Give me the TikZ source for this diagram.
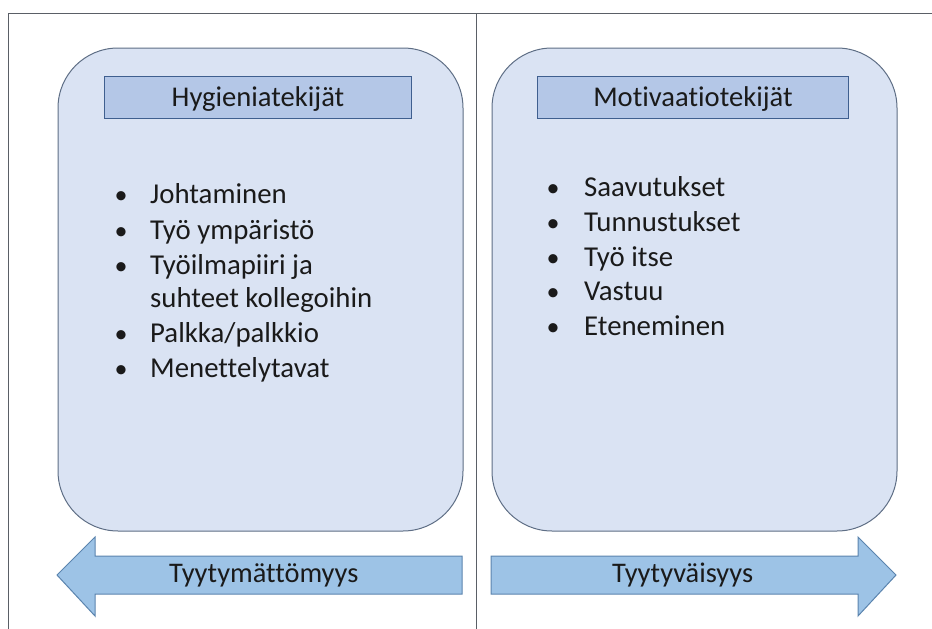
\documentclass[tikz,border=0pt]{standalone}
\usepackage{fontspec}
\setmainfont{Carlito}[Ligatures=NoCommon]
\definecolor{framecol}{HTML}{5A5F66}
\definecolor{boxfill}{HTML}{DAE3F3}
\definecolor{boxline}{HTML}{5E6E85}
\definecolor{headfill}{HTML}{B4C7E7}
\definecolor{headline}{HTML}{3F5F8F}
\definecolor{arrfill}{HTML}{9DC3E6}
\definecolor{arrline}{HTML}{5B84AE}
\definecolor{txt}{HTML}{1A1A1A}
\tikzset{
  bigbox/.style={draw=boxline, fill=boxfill, line width=1pt, rounded corners=60pt},
  headbox/.style={draw=headline, fill=headfill, line width=1pt},
  arrowshape/.style={draw=arrline, fill=arrfill, line width=1pt},
  frameline/.style={draw=framecol, line width=1pt},
  item/.style={anchor=base west, inner sep=0pt, text=txt, font=\fontsize{28.8}{32}\selectfont},
  bul/.style={anchor=base, inner sep=0pt, text=txt, font=\fontsize{26}{30}\selectfont},
  headtxt/.style={anchor=base, inner sep=0pt, text=txt, font=\fontsize{28.6}{32}\selectfont},
  arrtxt/.style={anchor=base west, inner sep=0pt, text=txt, font=\fontsize{28.4}{32}\selectfont},
}
\begin{document}
\begin{tikzpicture}[x=1pt,y=-1pt]
\useasboundingbox (0,0) rectangle (932,629);
% frame
\draw[frameline] (8,629) -- (8,13) -- (932,13);
\draw[frameline] (476,13) -- (476,629);
% big boxes
\draw[bigbox] (58,48) rectangle (463,531);
\draw[bigbox] (492,48) rectangle (897,531);
% headers
\node[headbox, minimum width=307pt, minimum height=42pt, inner sep=0pt] (hh) at (257.5,97) {};
\node[headtxt] (hht) at (258,106) {Hygieniatekijät};
\node[headbox, minimum width=311pt, minimum height=42pt, inner sep=0pt] (mh) at (692.5,97) {};
\node[headtxt] (mht) at (693,106) {Motivaatiotekijät};
% left list
\node[bul] (lb1) at (121,203) {•};
\node[item] (l1) at (150,203) {Johtaminen};
\node[bul] (lb2) at (121,239) {•};
\node[item] (l2) at (150,239) {Työ ympäristö};
\node[bul] (lb3) at (121,274) {•};
\node[item] (l3) at (150,274) {Työilmapiiri ja};
\node[item] (l3b) at (150,307) {suhteet kollegoihin};
\node[bul] (lb4) at (121,342) {•};
\node[item] (l4) at (150,342) {Palkka/palkkio};
\node[bul] (lb5) at (121,377) {•};
\node[item] (l5) at (150,377) {Menettelytavat};
% right list
\node[bul] (rb1) at (553,196) {•};
\node[item] (r1) at (584,196) {Saavutukset};
\node[bul] (rb2) at (553,231) {•};
\node[item] (r2) at (584,231) {Tunnustukset};
\node[bul] (rb3) at (553,266) {•};
\node[item] (r3) at (584,266) {Työ itse};
\node[bul] (rb4) at (553,300) {•};
\node[item] (r4) at (584,300) {Vastuu};
\node[bul] (rb5) at (553,335) {•};
\node[item] (r5) at (584,335) {Eteneminen};
% arrows
\draw[arrowshape] (57,575) -- (95,537) -- (95,556) -- (462,556) -- (462,594) -- (95,594) -- (95,616) -- cycle;
\node[arrtxt] (la) at (169,582) {Tyytymättömyys};
\draw[arrowshape] (896,575) -- (858,537) -- (858,556) -- (491,556) -- (491,594) -- (858,594) -- (858,616) -- cycle;
\node[arrtxt] (ra) at (612,582) {Tyytyväisyys};
\end{tikzpicture}
\end{document}
